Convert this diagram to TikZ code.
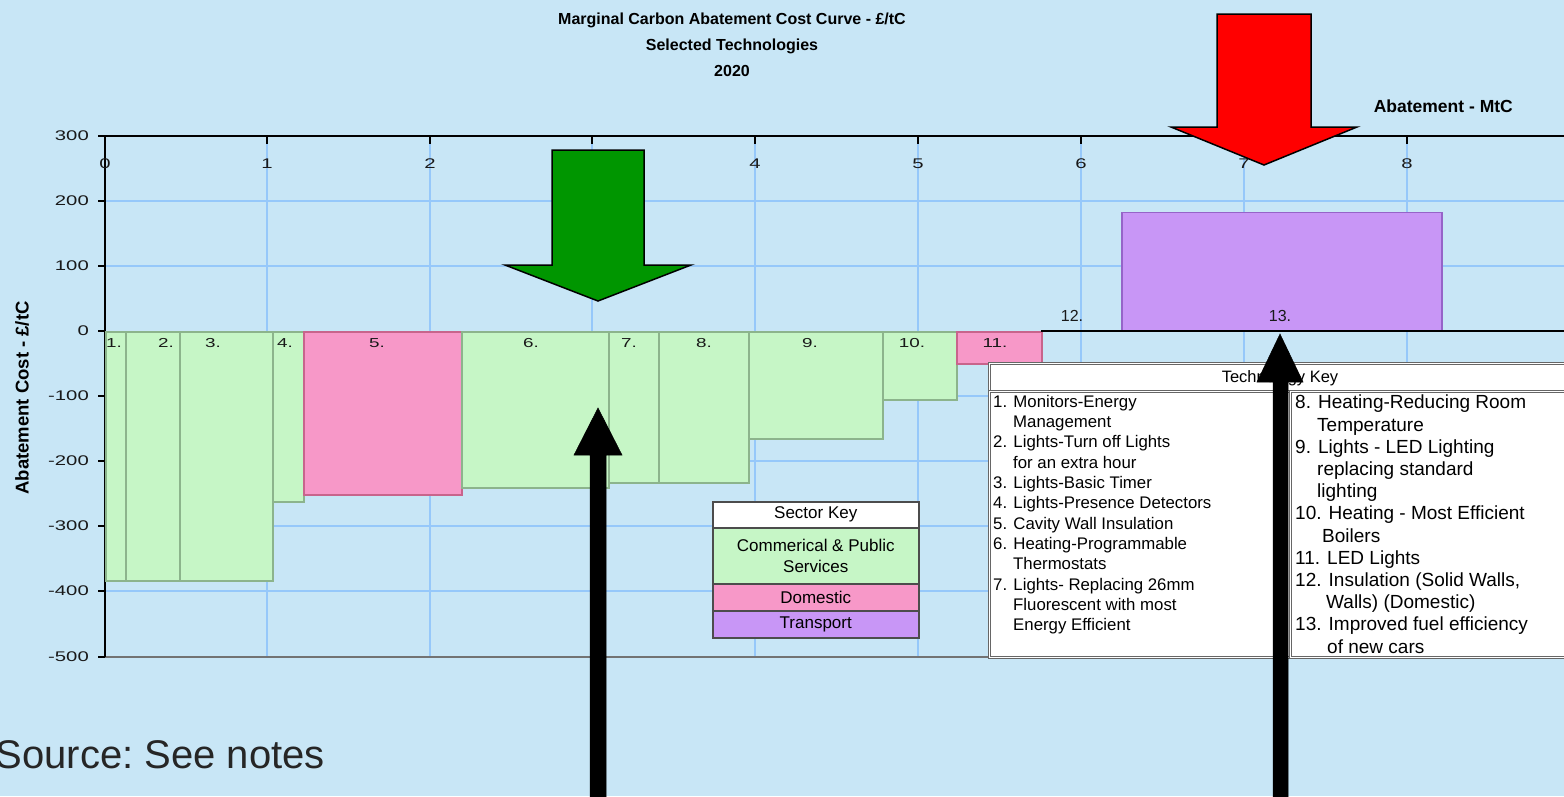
\documentclass[tikz,border=0pt]{standalone}
\usepackage{graphicx}
\usepackage{fontspec}
\setmainfont{Liberation Sans}
\newcommand{\stretchtext}[1]{\scalebox{1.45}[1]{#1}}
\definecolor{bgblue}{RGB}{200,230,246}
\definecolor{gridc}{RGB}{150,200,250}
\definecolor{cpsF}{RGB}{198,246,198}
\definecolor{cpsD}{RGB}{140,180,140}
\definecolor{domF}{RGB}{247,152,200}
\definecolor{domD}{RGB}{200,100,140}
\definecolor{trF}{RGB}{200,150,246}
\definecolor{trD}{RGB}{150,100,200}
\definecolor{grnarrow}{RGB}{0,150,0}
\tikzset{
  tick/.style={font=\fontsize{14}{14}\selectfont, inner sep=0pt, text=black!90},
  barlab/.style={font=\fontsize{13}{13}\selectfont, inner sep=0pt, text=black!90},
  barbase/.style={line width=1.5pt, inner sep=0pt, anchor=north west},
  cps/.style={barbase, fill=cpsF, draw=cpsD},
  dom/.style={barbase, fill=domF, draw=domD},
  trn/.style={barbase, fill=trF, draw=trD},
  keycell/.style={draw=black!70, line width=1.5pt, inner sep=0pt, anchor=north west, minimum width=206pt, align=center, font=\fontsize{17}{21}\selectfont},
  tkbox/.style={draw=black!60, double=white, double distance=1.5pt, line width=0.9pt, fill=white, inner sep=0pt, anchor=north west},
  titletext/.style={font=\bfseries\fontsize{16}{18}\selectfont, inner sep=0pt},
  blackarrow/.style={fill=black, draw=black, line width=0.5pt},
}
\begin{document}
\begin{tikzpicture}[x=1pt,y=-1pt]
\useasboundingbox (0,0) rectangle (1564,796);
\fill[bgblue] (0,0) rectangle (1564,796);

% grid
\foreach \gx in {267,430,592,755,918,1081,1244,1407}
  \draw[gridc, line width=1.5pt] (\gx,136) -- (\gx,657);
\foreach \gy in {201,266,396,461,526,591}
  \draw[gridc, line width=1.5pt] (105,\gy) -- (1564,\gy);

% axes
\draw[black!55, line width=2pt] (105,657) -- (1564,657);
\draw[black, line width=2pt] (105,136) -- (1564,136);
\draw[black, line width=2pt] (105,136) -- (105,657);

% y ticks
\foreach \val/\ty in {300/136,200/201,100/266,0/331,-100/396,-200/461,-300/526,-400/591,-500/657}{
  \draw[black, line width=1.5pt] (98,\ty) -- (105,\ty);
  \node[tick, anchor=east] (yt\val) at (89,\ty) {\stretchtext{\val}};
}
% x ticks
\foreach \k/\tx in {0/105,1/267,2/430,3/592,4/755,5/918,6/1081,7/1244,8/1407}{
  \draw[black, line width=1.5pt] (\tx,136) -- (\tx,144);
  \node[tick] (xt\k) at (\tx,164) {\stretchtext{\k}};
}

% titles
\node[titletext] (t1) at (732,20) {Marginal Carbon Abatement Cost Curve - £/tC};
\node[titletext] (t2) at (732,46) {Selected Technologies};
\node[titletext] (t3) at (732,71) {2020};
\node[font=\bfseries\fontsize{17.5}{18}\selectfont, inner sep=0pt, anchor=east] (xaxlab) at (1513,106) {Abatement - MtC};
\node[font=\bfseries\fontsize{18.5}{19}\selectfont, inner sep=0pt, rotate=90] (yaxlab) at (22,398) {Abatement Cost - £/tC};

% bars
\node[cps, minimum width=20pt, minimum height=249pt] (b1) at (105,331) {};
\node[cps, minimum width=54pt, minimum height=249pt] (b2) at (125,331) {};
\node[cps, minimum width=93pt, minimum height=249pt] (b3) at (179,331) {};
\node[cps, minimum width=31pt, minimum height=170pt] (b4) at (272,331) {};
\node[dom, minimum width=158pt, minimum height=163pt] (b5) at (303,331) {};
\node[cps, minimum width=147pt, minimum height=156pt] (b6) at (461,331) {};
\node[cps, minimum width=50pt, minimum height=151pt] (b7) at (608,331) {};
\node[cps, minimum width=90pt, minimum height=151pt] (b8) at (658,331) {};
\node[cps, minimum width=134pt, minimum height=107pt] (b9) at (748,331) {};
\node[cps, minimum width=74pt, minimum height=68pt] (b10) at (882,331) {};
\node[dom, minimum width=85pt, minimum height=32pt] (b11) at (956,331) {};
\node[trn, anchor=south west, minimum width=320pt, minimum height=118pt] (b13) at (1121,331) {};
\draw[black, line width=2pt] (1041,331) -- (1564,331);

% bar labels
\foreach \n/\lx in {1/114,2/166,3/213,4/285,5/377,6/531,7/629,8/704,9/810,10/912,11/995}
  \node[barlab] (bl\n) at (\lx,343) {\stretchtext{\n.}};
\node[font=\fontsize{16}{16}\selectfont, inner sep=0pt, text=black!90] (bl12) at (1072,316) {12.};
\node[font=\fontsize{16}{16}\selectfont, inner sep=0pt, text=black!90] (bl13) at (1280,316) {13.};

% sector key
\node[keycell, fill=white, minimum height=26pt] (sk0) at (712,501) {Sector Key};
\node[keycell, fill=cpsF, minimum height=56pt] (sk1) at (712,527) {Commerical \& Public\\Services};
\node[keycell, fill=domF, minimum height=27pt] (sk2) at (712,583) {Domestic};
\node[keycell, fill=trF, minimum height=27pt] (sk3) at (712,610) {Transport};

% technology key
\node[tkbox, minimum width=590pt, minimum height=28pt] (tkt) at (989,363) {};
\node[tkbox, minimum width=301pt, minimum height=266pt] (tkl) at (989,391) {};
\node[tkbox, minimum width=290pt, minimum height=266pt] (tkr) at (1290,391) {};
\node[font=\fontsize{16.5}{17}\selectfont, inner sep=0pt] (tktitle) at (1280,378) {Technology Key};
\node[font=\fontsize{16.8}{20.3}\selectfont, align=left, inner sep=0pt, anchor=north west] (tkltext) at (993,395) {%
1. Monitors-Energy\\
\hspace*{20pt}Management\\
2. Lights-Turn off Lights\\
\hspace*{20pt}for an extra hour\\
3. Lights-Basic Timer\\
4. Lights-Presence Detectors\\
5. Cavity Wall Insulation\\
6. Heating-Programmable\\
\hspace*{20pt}Thermostats\\
7. Lights- Replacing 26mm\\
\hspace*{20pt}Fluorescent with most\\
\hspace*{20pt}Energy Efficient};
\node[font=\fontsize{19}{22.2}\selectfont, align=left, inner sep=0pt, anchor=north west] (tkrtext) at (1295,395) {%
8. Heating-Reducing Room\\
\hspace*{22pt}Temperature\\
9. Lights - LED Lighting\\
\hspace*{22pt}replacing standard\\
\hspace*{22pt}lighting\\
10. Heating - Most Efficient\\
\hspace*{27pt}Boilers\\
11. LED Lights\\
12. Insulation (Solid Walls,\\
\hspace*{31pt}Walls) (Domestic)\\
13. Improved fuel efficiency\\
\hspace*{32pt}of new cars};

% source
\node[font=\fontsize{40}{40}\selectfont, inner sep=0pt, anchor=base east, text=black!85] (src) at (325,768) {\frenchspacing Source: See notes};

% big arrows
\draw[fill=grnarrow, draw=black, line width=1.5pt, line join=miter]
  (552,150) -- (644,150) -- (644,265) -- (691,265) -- (598,301) -- (505,265) -- (552,265) -- cycle;
\draw[fill=red, draw=black, line width=1.5pt, line join=miter]
  (1217,14) -- (1311,14) -- (1311,127) -- (1357,127) -- (1264,165) -- (1171,127) -- (1217,127) -- cycle;
\draw[blackarrow]
  (590,800) -- (590,455) -- (574,455) -- (598,408) -- (622,455) -- (606,455) -- (606,800) -- cycle;
\draw[blackarrow]
  (1273,800) -- (1273,382) -- (1257,382) -- (1280,334) -- (1303,382) -- (1288,382) -- (1288,800) -- cycle;
\end{tikzpicture}
\end{document}
